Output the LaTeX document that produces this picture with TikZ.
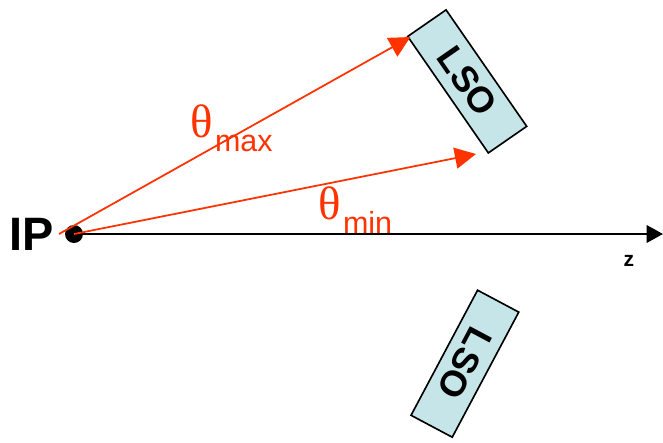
\documentclass[tikz,border=0pt]{standalone}
\usepackage{fontspec}
\setmainfont{Liberation Sans}
\newfontfamily\grfont{Liberation Serif}
\usetikzlibrary{arrows.meta}

\definecolor{lsoblue}{RGB}{197,229,232}
\definecolor{thetared}{RGB}{255,51,0}

\tikzset{
  lsobox/.style={draw, line width=1.4pt, fill=lsoblue, minimum width=4.25cm,
    minimum height=1.4cm, inner sep=0pt, font=\bfseries\fontsize{31}{31}\selectfont},
  raytheta/.style={thetared, line width=1.5pt, -{Triangle[length=18pt,width=18pt]}},
  thetalabel/.style={thetared, anchor=base west, inner sep=0pt}
}
\newcommand{\thetasub}[1]{{\grfont\fontsize{40}{40}\selectfont θ}\hspace{2pt}\raisebox{-12.5pt}{\fontsize{26}{26}\selectfont #1}}

\begin{document}
\begin{tikzpicture}[x=0.03cm, y=-0.03cm]
\useasboundingbox (0,0) rectangle (663,443);

% detecteurs
\node[lsobox, rotate=-55.3] (lsohaut) at (467.2,81.4) {LSO};
\node[lsobox, rotate=242] (lsobas) at (464.9,363.7) {LSO};

% axe z
\coordinate (ipc) at (74,234);
\coordinate (zfin) at (663,234);
\draw[line width=1.7pt, -{Triangle[length=14pt,width=15pt]}] (ipc) -- (zfin);
\node[circle, fill=black, minimum size=0.54cm, inner sep=0pt] (ip) at (ipc) {};
\node[font=\bfseries\fontsize{40}{40}\selectfont, anchor=base east, inner sep=0pt] (iplabel) at (54,250) {IP};
\node[font=\bfseries\fontsize{18}{18}\selectfont, anchor=base, inner sep=0pt] (zlabel) at (629,266) {z};

% angles
\coordinate (depart) at (59,234);
\coordinate (pointemax) at (410.5,37);
\coordinate (pointemin) at (476,154);
\draw[raytheta] (depart) -- (pointemax);
\draw[raytheta] (ip.center) -- (pointemin);
\node[thetalabel] (thmax) at (190,137) {\thetasub{max}};
\node[thetalabel] (thmin) at (318,219) {\thetasub{min}};

\end{tikzpicture}
\end{document}
